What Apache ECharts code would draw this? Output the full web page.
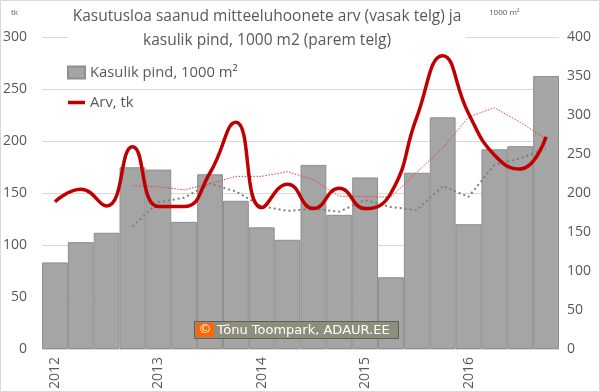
<!DOCTYPE html>
<html>
<head>
<meta charset="utf-8">
<script src="https://cdn.jsdelivr.net/npm/echarts@6/dist/echarts.min.js"></script>
<style>
html,body{margin:0;padding:0;background:#fff;}
#c{width:600px;height:392px;}
</style>
</head>
<body>
<div id="c"></div>
<script>
// Quarters 2012 I ... 2016 IV
const quarters = ["2012 I","2012 II","2012 III","2012 IV","2013 I","2013 II","2013 III","2013 IV","2014 I","2014 II","2014 III","2014 IV","2015 I","2015 II","2015 III","2015 IV","2016 I","2016 II","2016 III","2016 IV"];
// Kasulik pind, 1000 m² (right axis)
const areaValues = [111, 137, 149, 233, 230, 163, 224, 190, 156, 140, 236, 172, 220, 92, 226, 297, 160, 256, 260, 350];
// Arv, tk (left axis)
const countValues = [141.5, 153.5, 137.5, 194.5, 137, 137, 169.5, 218, 136, 158.5, 135, 154.5, 135, 150, 223, 282, 226.5, 186.5, 173, 204];
// 4-quarter moving averages as drawn (dotted)
const countMA = ['-', '-', '-', 157, 156, 153, 159, 166, 166, 170.5, 162.5, 147, 146.5, 146, 170, 193, 223, 232, 218, 202];
const areaMA = ['-', '-', '-', 157, 188, 194, 212, 202, 183, 177, 179.5, 176, 191, 182, 178, 209, 195, 236, 244.5, 257];
const leftTicks = {min: 0, max: 300, interval: 50};
const rightTicks = {min: 0, max: 400, interval: 50};

const chart = echarts.init(document.getElementById('c'), null, {renderer: 'canvas'});
const txt = '#595959';
const ff = 'Open Sans';
const lineIcon = 'path://M0,0H0.01V0.01H0Z M0,4.3H17V7.7H0Z M16.99,11.99H17V12H16.99Z';
chart.setOption({
  animation: false,
  backgroundColor: '#ffffff',
  title: {
    text: 'Kasutusloa saanud mitteeluhoonete arv (vasak telg) ja\nkasulik pind, 1000 m2 (parem telg)',
    left: 263, top: 5, textAlign: 'center',
    padding: [0, 4],
    backgroundColor: '#ffffff',
    textStyle: {fontFamily: ff, fontSize: 15.5, fontWeight: 'normal', color: txt, lineHeight: 24}
  },
  legend: {
    orient: 'vertical', left: 67, top: 65, padding: 0,
    itemWidth: 17, itemHeight: 12, itemGap: 15,
    textStyle: {fontFamily: ff, fontSize: 14.8, color: txt},
    data: [
      {name: 'Kasulik pind, 1000 m²', icon: 'rect'},
      {name: 'Arv, tk', icon: lineIcon}
    ]
  },
  grid: {left: 41, right: 41, top: 37, bottom: 43, containLabel: false},
  xAxis: {
    type: 'category', data: quarters,
    axisTick: {show: false},
    axisLine: {lineStyle: {color: '#d9d9d9'}},
    axisLabel: {
      rotate: 90, margin: 8, fontFamily: ff, fontSize: 14, color: txt,
      interval: function (i) { return i % 4 === 0; },
      formatter: function (v) { return v.split(' ')[0]; }
    }
  },
  yAxis: [
    {type: 'value', min: leftTicks.min, max: leftTicks.max, interval: leftTicks.interval,
     axisLine: {show: false}, axisTick: {show: false},
     splitLine: {lineStyle: {color: '#d9d9d9'}},
     axisLabel: {margin: 15, fontFamily: ff, fontSize: 14, color: txt}},
    {type: 'value', min: rightTicks.min, max: rightTicks.max, interval: rightTicks.interval,
     axisLine: {show: false}, axisTick: {show: false},
     splitLine: {show: false},
     axisLabel: {margin: 8, fontFamily: ff, fontSize: 14, color: txt}}
  ],
  series: [
    {name: 'Kasulik pind, 1000 m²', type: 'bar', yAxisIndex: 1, data: areaValues,
     barCategoryGap: 0, itemStyle: {color: '#a5a5a5', borderColor: '#8e8e8e', borderWidth: 1}, z: 1},
    {name: 'avgArea', type: 'line', yAxisIndex: 1, data: areaMA, symbol: 'none',
     lineStyle: {color: '#7f7f7f', width: 2, type: [2, 3]}, z: 3},
    {name: 'avgCount', type: 'line', yAxisIndex: 0, data: countMA, symbol: 'none',
     lineStyle: {color: '#e8413f', width: 1, type: [1.5, 1.5]}, z: 3},
    {name: 'Arv, tk', type: 'line', yAxisIndex: 0, data: countValues, symbol: 'none',
     smooth: 0.5, lineStyle: {color: '#c00000', width: 3.5}, itemStyle: {color: '#c00000'}, z: 5}
  ],
  graphic: {elements: [
    {type: 'rect', silent: true, z: 100, shape: {x: 0.5, y: 0.5, width: 599, height: 391},
     style: {fill: 'none', stroke: '#d9d9d9', lineWidth: 1}},
    {type: 'text', x: 11, y: 9, z: 100,
     style: {text: 'tk', fontFamily: ff, fontSize: 8, fill: txt}},
    {type: 'text', x: 489, y: 9, z: 100,
     style: {text: '1000 m²', fontFamily: ff, fontSize: 8, fill: txt}},
    {type: 'rect', z: 100, shape: {x: 194.5, y: 321.5, width: 204, height: 17},
     style: {fill: '#8e8e7c', stroke: '#5f5f5f', lineWidth: 1}},
    {type: 'rect', z: 101, shape: {x: 196, y: 323, width: 18, height: 14},
     style: {fill: '#ff6600'}},
    {type: 'text', z: 102, x: 205, y: 330,
     style: {text: '©', fontFamily: 'DejaVu Sans', fontSize: 13, fill: '#ffffff', align: 'center', verticalAlign: 'middle'}},
    {type: 'text', z: 102, x: 217, y: 330.5,
     style: {text: 'Tõnu Toompark, ADAUR.EE', fontFamily: 'DejaVu Sans', fontSize: 13, fill: '#ffffff', verticalAlign: 'middle'}}
  ]}
});
</script>
</body>
</html>
